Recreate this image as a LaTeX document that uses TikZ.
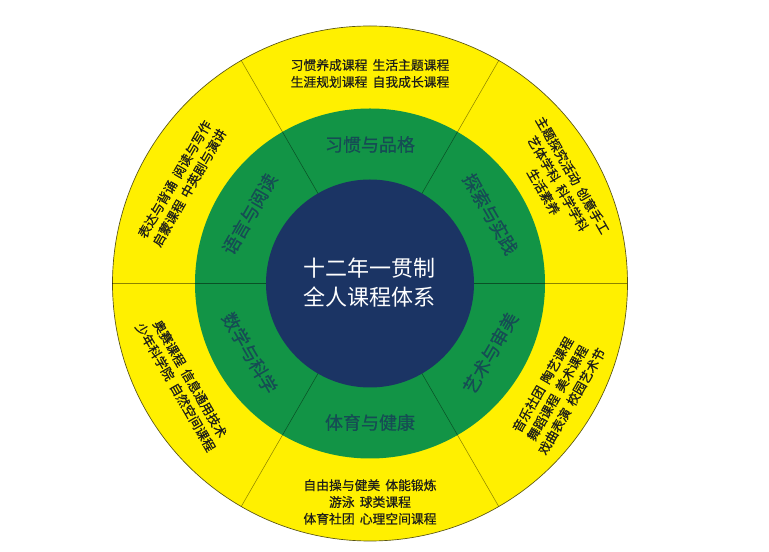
\documentclass[tikz,border=0pt]{standalone}
\usepackage{fontspec}
\newfontfamily\cjk{Noto Sans CJK SC}
\newfontfamily\cjkb[FakeBold=0.6]{Noto Sans CJK SC}
\definecolor{ringyellow}{RGB}{255,240,0}
\definecolor{ringgreen}{RGB}{18,148,70}
\definecolor{coreblue}{RGB}{27,52,100}
\definecolor{labelteal}{RGB}{22,76,84}
\definecolor{edgeolive}{RGB}{90,85,20}
\definecolor{coursetext}{RGB}{30,30,25}
\newcommand\gp{\hspace{0.4em}}
\begin{document}
\begin{tikzpicture}[x=0.75pt,y=0.75pt,
  coretext/.style={font=\cjk\fontsize{16.5}{21.75}\selectfont, text=white, align=center, inner sep=0pt},
  ringlabel/.style={font=\cjkb\fontsize{13.5}{16}\selectfont, text=labelteal, inner sep=0pt},
  course/.style={font=\cjkb\fontsize{9.6}{12.6}\selectfont, text=coursetext, align=center, inner sep=0pt},
  divider/.style={draw=black, draw opacity=0.45, line width=0.4pt}]
\fill[white] (-370,-268.5) rectangle (399,283.5);
\useasboundingbox (-370,-268.5) rectangle (399,283.5);
% rings
\fill[ringyellow] (0,0) circle (257.5);
\draw[edgeolive, line width=0.5pt] (0,0) circle (257.5);
\fill[ringgreen] (0,0) circle (175);
\fill[coreblue] (0,0) circle (104);
\foreach \a in {0,60,...,300} \draw[divider] (\a:104) -- (\a:257.5);
% core
\node[coretext] (core) at (0,1) {十二年一贯制\\全人课程体系};
% green ring labels
\node[ringlabel] (habit) at (90:139) {习惯与品格};
\node[ringlabel, rotate=-60] (explore) at (30:139) {探索与实践};
\node[ringlabel, rotate=60] (art) at (-30:139) {艺术与审美};
\node[ringlabel] (sport) at (-90:139) {体育与健康};
\node[ringlabel, rotate=-60] (math) at (210:139) {数学与科学};
\node[ringlabel, rotate=60] (lang) at (150:139) {语言与阅读};
% yellow ring courses
\node[course] (chabit) at (90:210) {习惯养成课程\gp 生活主题课程\\生涯规划课程\gp 自我成长课程};
\node[course, rotate=-60] (cexplore) at (28:213) {主题探究活动\gp 创意手工\\艺体学科\gp 科学学科\\生活素养};
\node[course, rotate=60] (cart) at (-30.3:217) {音乐社团\gp 陶艺课程\\舞蹈课程\gp 美术课程\\戏曲表演\gp 校园艺术节};
\node[course] (csport) at (-90:218.5) {自由操与健美\gp 体能锻炼\\游泳\gp 球类课程\\体育社团\gp 心理空间课程};
\node[course, rotate=-60] (cmath) at (208:212) {奥赛课程\gp 信息通用技术\\少年科学院\gp 自然空间课程};
\node[course, rotate=60] (clang) at (152:213) {表达与背诵\gp 阅读与写作\\启蒙课程\gp 中英剧与演讲};
\end{tikzpicture}
\end{document}
